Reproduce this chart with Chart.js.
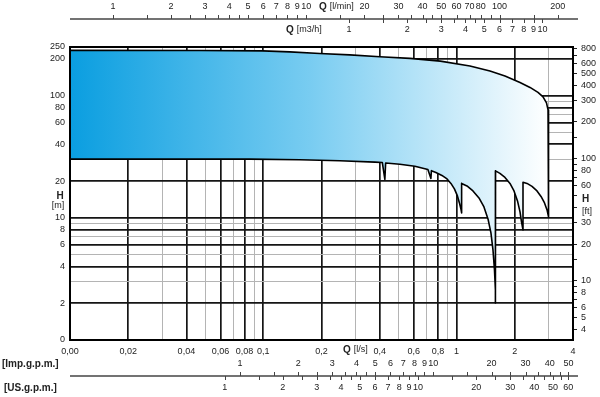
<!DOCTYPE html>
<html><head><meta charset="utf-8">
<script src="https://cdn.jsdelivr.net/npm/chart.js@4.4.1/dist/chart.umd.min.js"></script>
<style>html,body{margin:0;padding:0;background:#fff}canvas{display:block}</style>
</head><body>
<canvas id="c" width="600" height="397"></canvas>
<script>
// ---- axis ticks (Q in l/s, H in m) ----
const X_TICKS = [0.01,0.02,0.03,0.04,0.05,0.06,0.07,0.08,0.09,0.1,0.2,0.3,0.4,0.5,0.6,0.7,0.8,0.9,1,2,3,4];
const X_MAJOR = [0.01,0.02,0.04,0.06,0.08,0.1,0.2,0.4,0.6,0.8,1,2,4];
const X_LABEL_VALUES = [0.01,0.02,0.04,0.06,0.08,0.1,0.2,0.4,0.6,0.8,1,2,4];
const X_LABEL_TEXT = ['0,00','0,02','0,04','0,06','0,08','0,1','0,2','0,4','0,6','0,8','1','2','4'];

const Y_TICKS = [1,2,3,4,5,6,7,8,9,10,20,30,40,50,60,70,80,90,100,200,250];
const Y_MAJOR = [2,4,6,8,10,20,40,60,80,100,200];
const Y_LABEL_VALUES = [1,2,4,6,8,10,20,40,60,80,100,200,250];
const Y_LABEL_TEXT = ['0','2','4','6','8','10','20','40','60','80','100','200','250'];

const FT_TICKS = [4,5,6,7,8,9,10,15,20,30,40,50,60,70,80,90,100,150,200,300,400,500,600,700,800];
const FT_LABELS = [4,5,6,8,10,20,30,60,80,100,200,300,400,500,600,800];

// secondary flow scales
const LMIN_TICKS = [1,1.5,2,2.5,3,3.5,4,4.5,5,6,7,8,9,10,15,20,25,30,35,40,45,50,60,70,80,90,100,150,200];
const LMIN_LABELS = [1,2,3,4,5,6,7,8,9,10,20,30,40,50,60,70,80,100,200];
const M3H_TICKS = [1,1.5,2,2.5,3,3.5,4,4.5,5,6,7,8,9,10];
const M3H_LABELS = [1,2,3,4,5,6,7,8,9,10];
const IMP_TICKS = [1,1.5,2,2.5,3,3.5,4,4.5,5,6,7,8,9,10,15,20,25,30,35,40,45,50];
const IMP_LABELS = [1,2,3,4,5,6,7,8,9,10,20,30,40,50];
const US_TICKS = [1,1.5,2,2.5,3,3.5,4,4.5,5,6,7,8,9,10,15,20,25,30,35,40,45,50,55,60];
const US_LABELS = [1,2,3,4,5,6,7,8,9,10,20,30,40,50,60];

// ---- range envelope (Q l/s, H m), traced clockwise ----
const ENV_Q = [
  0.01,0.04685,0.0993,0.1370,0.1959,0.2802,0.4007,0.5731,0.8234,1.172,1.488,1.779,2.128,2.397,2.636,2.799,2.917,2.971,2.989,
  2.989,2.936,2.849,2.733,2.605,2.455,2.313,2.205,
  2.205,2.166,2.128,2.065,1.981,1.888,1.779,1.675,1.59,
  1.59,1.585,1.570,1.542,1.505,1.453,1.385,1.305,1.215,1.131,1.0614,
  1.0614,1.0527,1.034,1.0096,0.9741,0.9343,0.892,0.8393,0.7812,
  0.7405,0.7362,0.7102,0.608,0.5087,
  0.4294,0.4254,0.4128,0.3776,0.2487,0.1543,0.085,0.01,0.01];
const ENV_H = [
  234.4,233.9,232.2,227.9,221.1,215.4,208.2,201.6,191.6,175.0,159.3,145.0,128.2,116.7,106.2,97.6,87.2,76.4,63.2,
  10.17,11.60,13.24,14.97,16.60,18.07,19.12,19.56,
  7.96,9.26,11.18,13.75,16.60,19.12,21.41,23.08,24.2,
  2.01,2.57,3.75,5.46,7.52,9.79,12.28,14.55,16.60,18.24,19.12,
  10.97,11.82,13.24,15.11,17.24,19.12,20.81,22.23,23.52,
  24.3,21.0,24.85,26.44,27.46,
  28.1,20.6,28.35,28.56,29.33,29.89,30.2,30.2,234.4];

const M_TO_FT = 3.28084;
const LPS = { lmin: 1/60, m3h: 1/3.6, imp: 4.54609/60, us: 3.785411784/60 };
const FONT = '"Liberation Sans", Arial, sans-serif';

const envelope = ENV_Q.map((q,i)=>({x:q, y:ENV_H[i]}));

function gradient(c){
  const ch = c.chart; if(!ch.chartArea) return 'rgba(0,0,0,0)';
  const x0 = ch.scales.x.getPixelForValue(0.01), x1 = ch.scales.x.getPixelForValue(2.99);
  const g = ch.ctx.createLinearGradient(x0,0,x1,0);
  g.addColorStop(0,'#0a9ee0');
  g.addColorStop(0.5,'#78ccf1');
  g.addColorStop(1,'#ffffff');
  return g;
}

function drawAux(ctx, xs, a, yLine, ticks, lbls, f, dir, yLbl){
  ctx.strokeStyle='#444'; ctx.lineWidth=1;
  ctx.beginPath();
  ticks.forEach(v=>{const p=Math.round(xs.getPixelForValue(v*f))+0.5; if(p<a.left-1||p>a.right+5) return;
    ctx.moveTo(p,yLine); ctx.lineTo(p,yLine+dir*4);});
  ctx.stroke();
  ctx.fillStyle='#222'; ctx.font='9px '+FONT; ctx.textAlign='center'; ctx.textBaseline='middle';
  lbls.forEach(v=>{const p=xs.getPixelForValue(v*f); ctx.fillText(String(v),p,yLbl);});
}

function title(ctx, x, y, bold, rest){
  ctx.textAlign='left'; ctx.textBaseline='middle'; ctx.fillStyle='#222';
  ctx.font='bold 10px '+FONT; ctx.fillText(bold,x,y);
  const w=ctx.measureText(bold).width;
  if(rest){ctx.font='9px '+FONT; ctx.fillText(rest,x+w+3,y);}
}

const auxPlugin = {
  id:'aux',
  afterDraw(chart){
    const {ctx, chartArea:a, scales:{x}} = chart;
    ctx.save();
    ctx.strokeStyle='#000'; ctx.lineWidth=2;
    ctx.strokeRect(a.left,a.top,a.right-a.left,a.bottom-a.top);
    // top scale
    ctx.strokeStyle='#444'; ctx.lineWidth=1.3;
    ctx.beginPath(); ctx.moveTo(a.left,19); ctx.lineTo(a.right+5,19); ctx.stroke();
    drawAux(ctx,x,a,19,LMIN_TICKS,LMIN_LABELS,LPS.lmin,-1,7);
    drawAux(ctx,x,a,19,M3H_TICKS,M3H_LABELS,LPS.m3h,1,30);
    title(ctx,319,7,'Q','[l/min]');
    title(ctx,286,30,'Q','[m3/h]');
    // bottom scale
    ctx.strokeStyle='#444'; ctx.lineWidth=1.3;
    ctx.beginPath(); ctx.moveTo(a.left,376); ctx.lineTo(a.right+5,376); ctx.stroke();
    drawAux(ctx,x,a,376,IMP_TICKS,IMP_LABELS,LPS.imp,-1,364);
    drawAux(ctx,x,a,376,US_TICKS,US_LABELS,LPS.us,1,388);
    title(ctx,343,350,'Q','[l/s]');
    title(ctx,2,364,'[Imp.g.p.m.]',null);
    title(ctx,4,388,'[US.g.p.m.]',null);
    // H labels
    ctx.textAlign='center'; ctx.fillStyle='#222';
    ctx.font='bold 10px '+FONT; ctx.fillText('H',60,196);
    ctx.font='9px '+FONT; ctx.fillText('[m]',58,206);
    ctx.textAlign='left';
    ctx.font='bold 10px '+FONT; ctx.fillText('H',582,199);
    ctx.font='9px '+FONT; ctx.fillText('[ft]',582,212);
    ctx.restore();
  }
};

const gridColor = major => c => (c.tick && major.includes(c.tick.value)) ? '#151515' : '#b4b4b4';
const gridWidth = major => c => (c.tick && major.includes(c.tick.value)) ? 1.7 : 1;

new Chart(document.getElementById('c'), {
  type:'scatter',
  data:{datasets:[{data:envelope, showLine:true, fill:'shape', backgroundColor:gradient,
    borderColor:'#000', borderWidth:1.6, pointRadius:0, tension:0, borderJoinStyle:'round'}]},
  options:{
    responsive:false, animation:false, devicePixelRatio:1,
    layout:{padding:{top:47,left:0,right:0,bottom:0}},
    plugins:{legend:{display:false}, tooltip:{enabled:false}},
    scales:{
      x:{type:'logarithmic', position:'bottom', min:0.01, max:4, bounds:'data',
        afterBuildTicks:s=>{s.ticks=X_TICKS.map(v=>({value:v})); s.min=0.01; s.max=4;},
        afterFit:s=>{s.height=57;},
        border:{display:false},
        grid:{color:gridColor(X_MAJOR), lineWidth:gridWidth(X_MAJOR), drawTicks:false},
        ticks:{autoSkip:false, maxRotation:0, padding:6, color:'#222', font:{family:FONT,size:9},
          callback:v=>{const i=X_LABEL_VALUES.indexOf(v); return i>=0?X_LABEL_TEXT[i]:'';}}
      },
      y:{type:'logarithmic', position:'left', min:1, max:250, bounds:'data',
        afterBuildTicks:s=>{s.ticks=Y_TICKS.map(v=>({value:v})); s.min=1; s.max=250;},
        afterFit:s=>{s.width=70;},
        border:{display:false},
        grid:{color:gridColor(Y_MAJOR), lineWidth:gridWidth(Y_MAJOR), drawTicks:false},
        ticks:{autoSkip:false, padding:5, color:'#222', font:{family:FONT,size:9},
          callback:v=>{const i=Y_LABEL_VALUES.indexOf(v); return i>=0?Y_LABEL_TEXT[i]:'';}}
      },
      y2:{type:'logarithmic', position:'right', min:1*M_TO_FT, max:250*M_TO_FT, bounds:'data',
        afterBuildTicks:s=>{s.ticks=FT_TICKS.map(v=>({value:v})); s.min=1*M_TO_FT; s.max=250*M_TO_FT;},
        afterFit:s=>{s.width=27;},
        border:{display:false},
        grid:{drawOnChartArea:false, drawTicks:true, tickLength:4, color:'#222', lineWidth:1},
        ticks:{autoSkip:false, padding:4, color:'#222', font:{family:FONT,size:9},
          callback:v=>FT_LABELS.includes(v)?String(v):''}
      }
    }
  },
  plugins:[auxPlugin]
});
</script>
</body></html>
